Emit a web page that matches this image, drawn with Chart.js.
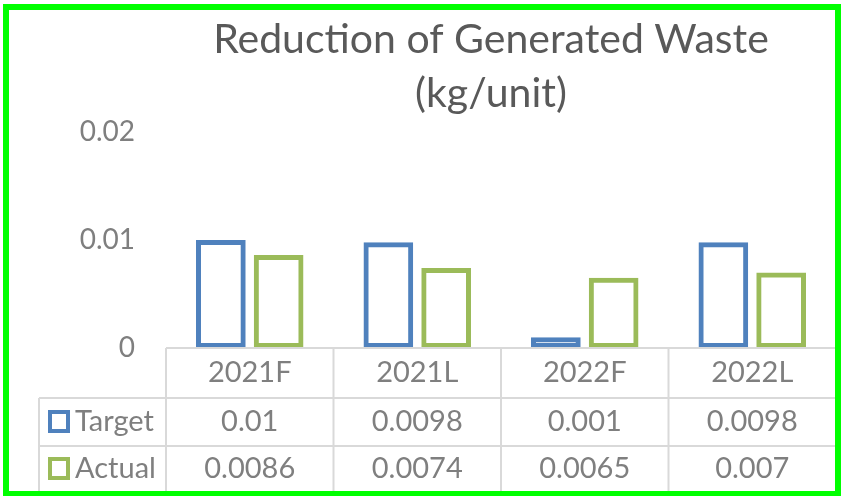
<!DOCTYPE html>
<html>
<head>
<meta charset="utf-8">
<script src="https://cdn.jsdelivr.net/npm/chart.js@4/dist/chart.umd.min.js"></script>
<style>
  html, body { margin: 0; padding: 0; background: #fff; }
</style>
</head>
<body>
<canvas id="chartWaste" width="844" height="496"></canvas>
<script>
var categories = ['2021F', '2021L', '2022F', '2022L'];
var target = [0.01, 0.0098, 0.001, 0.0098];
var actual = [0.0086, 0.0074, 0.0065, 0.007];
var seriesNames = ['Target', 'Actual'];
var titleLines = ['Reduction of Generated Waste', '(kg/unit)'];

var blue = '#4F81BD';
var green = '#9BBB59';
var textGray = '#7f7f7f';
var fontName = 'Lato';

// title, data table under the axis and the green frame
var tablePlugin = {
  id: 'dataTable',
  afterDraw: function (chart) {
    var ctx = chart.ctx;
    var area = chart.chartArea;
    var xs = chart.scales.x;
    var half = (area.right - area.left) / categories.length / 2;
    var top = area.bottom, row1 = top + 50, row2 = row1 + 48, bottom = row2 + 46;
    var left = 39;

    ctx.save();
    // title
    ctx.fillStyle = '#595959';
    ctx.font = '41px ' + fontName;
    ctx.textAlign = 'center';
    ctx.textBaseline = 'middle';
    ctx.fillText(titleLines[0], 491, 40);
    ctx.fillText(titleLines[1], 491, 94);

    // grid of the table
    ctx.strokeStyle = '#d9d9d9';
    ctx.lineWidth = 2;
    ctx.beginPath();
    ctx.moveTo(area.left, top); ctx.lineTo(area.right, top);
    ctx.moveTo(left, row1); ctx.lineTo(area.right, row1);
    ctx.moveTo(left, row2); ctx.lineTo(area.right, row2);
    ctx.moveTo(left, row1); ctx.lineTo(left, bottom);
    for (var i = 0; i <= categories.length; i++) {
      var gx = area.left + i * half * 2;
      ctx.moveTo(gx, top); ctx.lineTo(gx, bottom);
    }
    ctx.stroke();

    // cell text
    ctx.fillStyle = textGray;
    ctx.font = '29px ' + fontName;
    ctx.textAlign = 'center';
    var rows = [target, actual];
    for (var c = 0; c < categories.length; c++) {
      var cx = xs.getPixelForValue(c);
      ctx.fillText(categories[c], cx, (top + row1) / 2);
      ctx.fillText(String(rows[0][c]), cx, (row1 + row2) / 2);
      ctx.fillText(String(rows[1][c]), cx, (row2 + bottom) / 2);
    }

    // legend keys
    var keyColors = [blue, green];
    var rowMid = [(row1 + row2) / 2, (row2 + bottom) / 2];
    ctx.textAlign = 'left';
    for (var r = 0; r < 2; r++) {
      ctx.strokeStyle = keyColors[r];
      ctx.lineWidth = 4;
      ctx.strokeRect(50, rowMid[r] - 10, 18, 19);
      ctx.fillStyle = textGray;
      ctx.fillText(seriesNames[r], 75, rowMid[r]);
    }

    // frame
    ctx.strokeStyle = '#00ff00';
    ctx.lineWidth = 6;
    ctx.strokeRect(6, 7, 832, 487);
    ctx.restore();
  }
};

var ctx = document.getElementById('chartWaste').getContext('2d');
var wasteChart = new Chart(ctx, {
  type: 'bar',
  data: {
    labels: categories,
    datasets: [{
      label: seriesNames[0],
      data: target,
      backgroundColor: 'rgba(0,0,0,0)',
      borderColor: blue,
      borderWidth: 5,
      borderSkipped: false
    }, {
      label: seriesNames[1],
      data: actual,
      backgroundColor: 'rgba(0,0,0,0)',
      borderColor: green,
      borderWidth: 5,
      borderSkipped: false
    }]
  },
  options: {
    responsive: false,
    animation: false,
    layout: { padding: { top: 132, bottom: 148, left: 0, right: 8 } },
    datasets: { bar: { categoryPercentage: 0.69, barPercentage: 0.86 } },
    plugins: {
      legend: { display: false },
      title: { display: false },
      tooltip: { enabled: false }
    },
    scales: {
      x: {
        grid: { display: false },
        border: { display: false },
        ticks: { display: false },
        afterFit: function (s) { s.height = 0; }
      },
      y: {
        min: 0,
        max: 0.02,
        ticks: { stepSize: 0.01, padding: 31, color: textGray, font: { family: fontName, size: 28 } },
        grid: { display: false, drawTicks: false },
        border: { display: false },
        afterFit: function (s) { s.width = 166; }
      }
    }
  },
  plugins: [tablePlugin]
});
</script>
</body>
</html>
